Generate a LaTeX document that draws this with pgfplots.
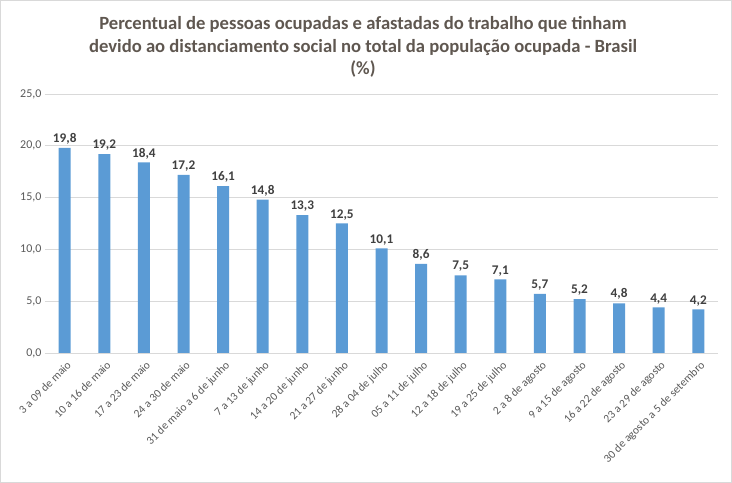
\documentclass[border=0pt]{standalone}
\usepackage{pgfplots}
\pgfplotsset{compat=1.18}
\usepackage{fontspec}
\setmainfont{Carlito}
\definecolor{barblue}{RGB}{91,155,213}
\definecolor{txtgray}{RGB}{89,89,89}
\definecolor{titlecol}{RGB}{95,87,80}
\definecolor{gridgray}{RGB}{217,217,217}
\definecolor{lblcol}{RGB}{64,64,64}
\begin{document}
\begin{tikzpicture}[x=1bp,y=1bp]
\draw[gridgray,line width=0.8bp] (-44.5bp,-129.5bp) rectangle (686.5bp,352.5bp);
\begin{axis}[
  at={(0,0)}, anchor=south west,
  scale only axis, width=673bp, height=259bp,
  ybar, bar width=12bp,
  xmin=-0.5, xmax=16.5, ymin=0, ymax=25,
  ytick={0,5,10,15,20,25},
  xtick={0,...,16},
  xticklabels={3 a 09 de maio,10 a 16 de maio,17 a 23 de maio,24 a 30 de maio,31 de maio a 6 de junho,7 a 13 de junho,14 a 20 de junho,21 a 27 de junho,28 a 04 de julho,05 a 11 de julho,12 a 18 de julho,19 a 25 de julho,2 a 8 de agosto,9 a 15 de agosto,16 a 22 de agosto,23 a 29 de agosto,30 de agosto a 5 de setembro},
  xticklabel style={rotate=45, anchor=north east, font=\fontsize{11.5}{13}\selectfont, text=txtgray, inner sep=1pt, xshift=-3bp, yshift=-5bp},
  yticklabel style={font=\fontsize{12}{14}\selectfont, text=txtgray},
  /pgf/number format/.cd, use comma, fixed, fixed zerofill, precision=1, assume math mode=true, /pgfplots/.cd,
  ymajorgrids, grid style={gridgray, line width=0.8bp},
  axis line style={draw=none},
  axis x line*=bottom,
  x axis line style={draw=gridgray, line width=0.8bp},
  axis y line*=left,
  y axis line style={draw=none},
  major tick length=0pt,
  tick style={draw=none},
  nodes near coords,
  every node near coord/.append style={font=\fontsize{13.3}{15}\selectfont\bfseries, text=lblcol, yshift=0bp},
  clip=false,
]
\addplot[fill=barblue, draw=none] coordinates {
(0,19.8) (1,19.2) (2,18.4) (3,17.2) (4,16.1) (5,14.8) (6,13.3) (7,12.5) (8,10.1) (9,8.6) (10,7.5) (11,7.1) (12,5.7) (13,5.2) (14,4.8) (15,4.4) (16,4.2)};
\end{axis}
\node[align=center, font=\fontsize{18.7}{23}\selectfont\bfseries, text=titlecol] at (318bp,306bp) {Percentual de pessoas ocupadas e afastadas do trabalho que tinham\\devido ao distanciamento social no total da população ocupada - Brasil\\(\%)};
\end{tikzpicture}
\end{document}
